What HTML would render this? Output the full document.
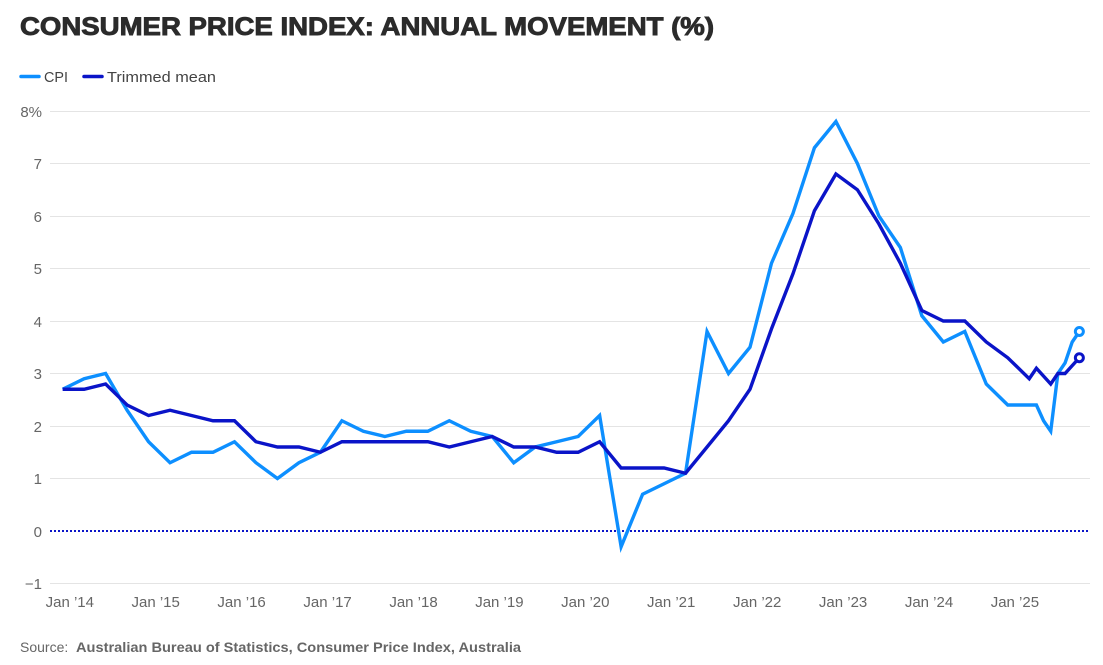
<!DOCTYPE html>
<html>
<head>
<meta charset="utf-8">
<style>
  html, body { margin:0; padding:0; background:#ffffff; }
  svg { display:block; font-family:"Liberation Sans", Arial, sans-serif; }
</style>
</head>
<body>
<svg width="1103" height="665" viewBox="0 0 1103 665" xmlns="http://www.w3.org/2000/svg">
  <rect x="0" y="0" width="1103" height="665" fill="#ffffff"/>

  <!-- Title -->
  <text x="20" y="35" font-size="25" font-weight="bold" fill="#2b2b2b" stroke="#2b2b2b" stroke-width="0.9" textLength="694" lengthAdjust="spacingAndGlyphs">CONSUMER PRICE INDEX: ANNUAL MOVEMENT (%)</text>

  <!-- Legend -->
  <line x1="21" y1="76.5" x2="39" y2="76.5" stroke="#0d8fff" stroke-width="3.5" stroke-linecap="round"/>
  <text x="44" y="82" font-size="15" fill="#444" textLength="24" lengthAdjust="spacingAndGlyphs">CPI</text>
  <line x1="84" y1="76.5" x2="102" y2="76.5" stroke="#0a14c8" stroke-width="3.5" stroke-linecap="round"/>
  <text x="107" y="82" font-size="15" fill="#444" textLength="109" lengthAdjust="spacingAndGlyphs">Trimmed mean</text>

  <!-- Gridlines -->
  <g stroke="#e4e4e4" stroke-width="1">
    <line x1="50" y1="111.5" x2="1090" y2="111.5"/>
    <line x1="50" y1="163.5" x2="1090" y2="163.5"/>
    <line x1="50" y1="216.5" x2="1090" y2="216.5"/>
    <line x1="50" y1="268.5" x2="1090" y2="268.5"/>
    <line x1="50" y1="321.5" x2="1090" y2="321.5"/>
    <line x1="50" y1="373.5" x2="1090" y2="373.5"/>
    <line x1="50" y1="426.5" x2="1090" y2="426.5"/>
    <line x1="50" y1="478.5" x2="1090" y2="478.5"/>
    <line x1="50" y1="583.5" x2="1090" y2="583.5"/>
  </g>
  <!-- Zero line dotted -->
  <line x1="50" y1="531" x2="1090" y2="531" stroke="#0a14c8" stroke-width="2" stroke-dasharray="2 2"/>

  <!-- Y labels -->
  <g font-size="15" fill="#666" text-anchor="end">
    <text x="42" y="117">8%</text>
    <text x="42" y="169">7</text>
    <text x="42" y="222">6</text>
    <text x="42" y="274">5</text>
    <text x="42" y="327">4</text>
    <text x="42" y="379">3</text>
    <text x="42" y="432">2</text>
    <text x="42" y="484">1</text>
    <text x="42" y="537">0</text>
    <text x="42" y="589">−1</text>
  </g>

  <!-- X labels -->
  <g font-size="15" fill="#666" text-anchor="middle">
    <text x="69.8" y="607">Jan ’14</text>
    <text x="155.7" y="607">Jan ’15</text>
    <text x="241.6" y="607">Jan ’16</text>
    <text x="327.6" y="607">Jan ’17</text>
    <text x="413.5" y="607">Jan ’18</text>
    <text x="499.4" y="607">Jan ’19</text>
    <text x="585.3" y="607">Jan ’20</text>
    <text x="671.2" y="607">Jan ’21</text>
    <text x="757.2" y="607">Jan ’22</text>
    <text x="843.1" y="607">Jan ’23</text>
    <text x="929.0" y="607">Jan ’24</text>
    <text x="1014.9" y="607">Jan ’25</text>
  </g>

  <!-- CPI series -->
  <polyline fill="none" stroke="#0d8fff" stroke-width="3.4" stroke-linejoin="miter" stroke-linecap="butt" points="
    62.64,389.25 84.12,378.75 105.60,373.5 127.08,410.25 148.56,441.75 170.04,462.75 191.52,452.25 213.00,452.25
    234.48,441.75 255.96,462.75 277.44,478.5 298.92,462.75 320.40,452.25 341.88,420.75 363.36,431.25 384.84,436.5
    406.32,431.25 427.80,431.25 449.28,420.75 470.76,431.25 492.24,436.5 513.72,462.75 535.20,447 556.68,441.75
    578.16,436.5 599.64,415.5 621.12,546.75 642.60,494.25 664.08,483.75 685.56,473.25 707.04,331.5 728.52,373.5
    750.00,347.25 771.48,263.25 792.96,213.4 814.44,147.75 835.92,121.5 857.40,163.5 878.88,216 900.36,247.5
    921.84,315.75 943.32,342 964.80,331.5 986.28,384 1007.76,405 1029.24,405 1036.40,405 1043.56,420.75
    1050.72,431.25 1057.88,373.5 1065.04,363 1072.20,342 1079.36,331.5"/>

  <!-- Trimmed mean series -->
  <polyline fill="none" stroke="#0a14c8" stroke-width="3.4" stroke-linejoin="miter" stroke-linecap="butt" points="
    62.64,389.25 84.12,389.25 105.60,384 127.08,405 148.56,415.5 170.04,410.25 191.52,415.5 213.00,420.75
    234.48,420.75 255.96,441.75 277.44,447 298.92,447 320.40,452.25 341.88,441.75 363.36,441.75 384.84,441.75
    406.32,441.75 427.80,441.75 449.28,447 470.76,441.75 492.24,436.5 513.72,447 535.20,447 556.68,452.25
    578.16,452.25 599.64,441.75 621.12,468 642.60,468 664.08,468 685.56,473.25 707.04,447 728.52,420.75
    750.00,389.25 771.48,328.9 792.96,273.75 814.44,210.75 835.92,174 857.40,189.75 878.88,223.9 900.36,263.25
    921.84,310.5 943.32,321 964.80,321 986.28,342 1007.76,357.75 1029.24,378.75 1036.40,368.25 1043.56,376.1
    1050.72,384 1057.88,373.5 1065.04,373.5 1072.20,365.6 1079.36,357.75"/>

  <!-- End markers -->
  <circle cx="1079.36" cy="331.5" r="4" fill="#ffffff" stroke="#0d8fff" stroke-width="3"/>
  <circle cx="1079.36" cy="357.75" r="4" fill="#ffffff" stroke="#0a14c8" stroke-width="3"/>

  <!-- Source -->
  <text x="20" y="652" font-size="14" fill="#666">Source:</text>
  <text x="76" y="652" font-size="14" font-weight="bold" fill="#666" textLength="445" lengthAdjust="spacingAndGlyphs">Australian Bureau of Statistics, Consumer Price Index, Australia</text>
</svg>
</body>
</html>
